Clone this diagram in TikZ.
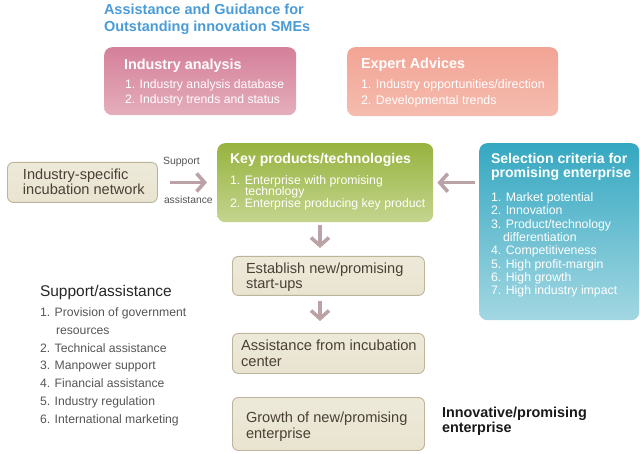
\documentclass[tikz,border=0pt]{standalone}
\usepackage{fontspec}
\setmainfont{Liberation Sans}
\usetikzlibrary{arrows.meta}
\definecolor{titleblue}{HTML}{4A9BD6}
\definecolor{pinktop}{HTML}{D4809A}
\definecolor{pinkbot}{HTML}{E5AEBC}
\definecolor{salmtop}{HTML}{F2A494}
\definecolor{salmbot}{HTML}{F5BCAF}
\definecolor{greentop}{HTML}{97B33F}
\definecolor{greenbot}{HTML}{C4D58E}
\definecolor{bluetop}{HTML}{35A8C1}
\definecolor{bluebot}{HTML}{A3D7E2}
\definecolor{beigefill}{HTML}{E9E4D0}
\definecolor{beigeline}{HTML}{BCB49A}
\definecolor{arrowc}{HTML}{BBA2A6}
\definecolor{browntext}{HTML}{4A4036}
\definecolor{greytext}{HTML}{555555}
\newcommand\fsz[2]{\fontsize{#1}{#2}\selectfont}
\tikzset{
  cbox/.style={rounded corners=8pt, inner sep=0pt, anchor=north west, shading angle=0},
  pinkbox/.style={cbox, top color=pinktop, bottom color=pinkbot},
  salmbox/.style={cbox, top color=salmtop, bottom color=salmbot},
  greenbox/.style={cbox, top color=greentop, bottom color=greenbot},
  bluebox/.style={cbox, top color=bluetop, bottom color=bluebot},
  beigebox/.style={rounded corners=6pt, inner sep=0pt, anchor=north west, draw=beigeline, line width=0.9pt, top color=beigefill!80!white, bottom color=beigefill},
  txt/.style={anchor=base west, inner sep=0pt, outer sep=0pt},
  wt/.style={txt, text=white},
  bt/.style={txt, text=browntext},
  gt/.style={txt, text=greytext},
  whead/.style={wt, font=\fsz{14.4}{17}\bfseries},
  witem/.style={wt, font=\fsz{12.3}{14}},
  beigetxt/.style={bt, font=\fsz{14.6}{17}},
  arr/.style={draw=arrowc, line width=3.6pt, -{Straight Barb[length=8pt,width=18pt]}},
}
\begin{document}
\begin{tikzpicture}[x=1pt, y=-1pt]
\useasboundingbox (0,0) rectangle (640,454);
% title
\node[txt, text=titleblue, font=\fsz{14.5}{17}\bfseries] (t1) at (104,14.5) {Assistance and Guidance for};
\node[txt, text=titleblue, font=\fsz{14.5}{17}\bfseries] (t2) at (104,32) {Outstanding innovation SMEs};
% industry analysis
\node[pinkbox, minimum width=192pt, minimum height=68pt] (ia) at (104,47) {};
\node[whead] (ia0) at (124,70) {Industry analysis};
\node[witem, font=\fsz{12.2}{14}] (ia1) at (125,88.7) {1. Industry analysis database};
\node[witem, font=\fsz{12.2}{14}] (ia2) at (125,103.7) {2. Industry trends and status};
% expert advices
\node[salmbox, minimum width=211pt, minimum height=69pt] (ea) at (347,47) {};
\node[whead] (ea0) at (361,68.6) {Expert Advices};
\node[witem, font=\fsz{12.4}{14}] (ea1) at (361,88.9) {1. Industry opportunities/direction};
\node[witem, font=\fsz{12.4}{14}] (ea2) at (361,104.9) {2. Developmental trends};
% industry-specific incubation network
\node[beigebox, minimum width=150pt, minimum height=40pt] (ind) at (7,162) {};
\node[beigetxt] (ind1) at (23,180) {Industry-specific};
\node[beigetxt] (ind2) at (23,194.3) {incubation network};
% key products
\node[greenbox, minimum width=216pt, minimum height=79pt] (kp) at (217,143) {};
\node[whead, font=\fsz{14.1}{17}\bfseries] (kp0) at (230,163.4) {Key products/technologies};
\node[witem] (kp1) at (230,184.5) {1. Enterprise with promising};
\node[witem] (kp2) at (245,196) {technology};
\node[witem] (kp3) at (230,207.5) {2. Enterprise producing key product};
% selection criteria
\node[bluebox, minimum width=160pt, minimum height=177pt] (sel) at (479,143) {};
\node[whead, font=\fsz{14.1}{17}\bfseries] (sel0) at (491,163.4) {Selection criteria for};
\node[whead, font=\fsz{14.1}{17}\bfseries] (sel1) at (491,177.8) {promising enterprise};
\node[witem] (s1) at (491,201.5) {1. Market potential};
\node[witem] (s2) at (491,214.8) {2. Innovation};
\node[witem] (s3) at (491,228.2) {3. Product/technology};
\node[witem] (s3b) at (503,241.5) {differentiation};
\node[witem] (s4) at (491,254.8) {4. Competitiveness};
\node[witem] (s5) at (491,268.2) {5. High profit-margin};
\node[witem] (s6) at (491,281.5) {6. High growth};
\node[witem] (s7) at (491,294.8) {7. High industry impact};
% support labels and arrow
\node[gt, font=\fsz{10.5}{12}] (lsup) at (163,164.5) {Support};
\node[gt, font=\fsz{10.3}{12}] (lass) at (164,204) {assistance};
\draw[arr, shorten <=12pt, shorten >=10pt] (ind.east) -- (kp.west |- ind.east);
\draw[arr, shorten <=4pt, shorten >=4pt] (sel.west |- kp.east) -- (kp.east);
% process column
\node[beigebox, minimum width=192pt, minimum height=39pt] (es) at (232,256) {};
\node[beigetxt] (es1) at (246,273.8) {Establish new/promising};
\node[beigetxt] (es2) at (246,289) {start-ups};
\node[beigebox, minimum width=192pt, minimum height=40pt] (as) at (232,333) {};
\node[beigetxt, font=\fsz{14.7}{17}] (as1) at (241,351) {Assistance from incubation};
\node[beigetxt, font=\fsz{14.7}{17}] (as2) at (241,366.5) {center};
\node[beigebox, minimum width=192pt, minimum height=53pt] (gr) at (232,397) {};
\node[beigetxt] (gr1) at (246,422.2) {Growth of new/promising};
\node[beigetxt] (gr2) at (246,438) {enterprise};
\coordinate (ax) at (320,0);
\draw[arr, shorten <=3pt, shorten >=8pt] (kp.south -| ax) -- (es.north -| ax);
\draw[arr, shorten <=5pt, shorten >=12pt] (es.south -| ax) -- (as.north -| ax);
% support/assistance list
\node[txt, text=black!85, font=\fsz{15.5}{18}] (sa0) at (40,296.2) {Support/assistance};
\node[gt, font=\fsz{12.2}{14}] (sa1) at (40,317) {1. Provision of government};
\node[gt, font=\fsz{12.2}{14}] (sa1b) at (56,334.7) {resources};
\node[gt, font=\fsz{12.2}{14}] (sa2) at (40,352.4) {2. Technical assistance};
\node[gt, font=\fsz{12.2}{14}] (sa3) at (40,370) {3. Manpower support};
\node[gt, font=\fsz{12.2}{14}] (sa4) at (40,387.7) {4. Financial assistance};
\node[gt, font=\fsz{12.2}{14}] (sa5) at (40,405.4) {5. Industry regulation};
\node[gt, font=\fsz{12.2}{14}] (sa6) at (40,423) {6. International marketing};
% innovative
\node[txt, text=black!90, font=\fsz{14.4}{17}\bfseries] (in1) at (442,417) {Innovative/promising};
\node[txt, text=black!90, font=\fsz{14.4}{17}\bfseries] (in2) at (442,432.5) {enterprise};
\end{tikzpicture}
\end{document}
